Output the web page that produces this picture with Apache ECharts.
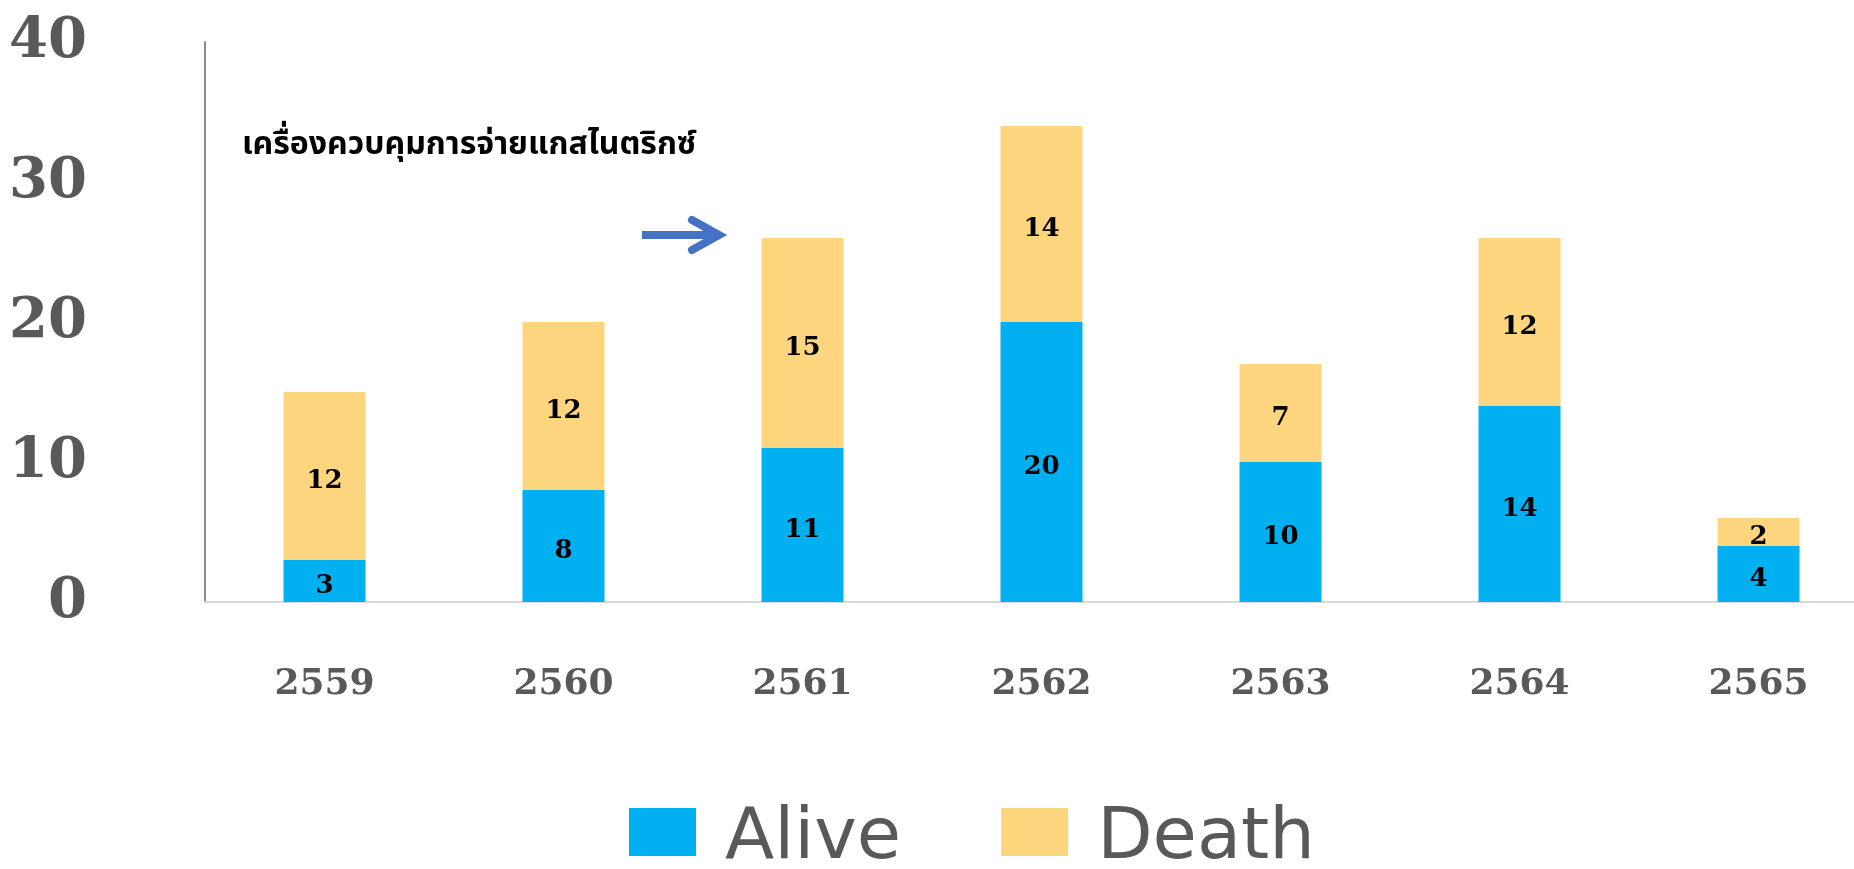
<!DOCTYPE html>
<html>
<head>
<meta charset="utf-8">
<title>Alive / Death</title>
<script src="https://cdn.jsdelivr.net/npm/echarts@6/dist/echarts.min.js"></script>
<style>
  html, body { margin: 0; padding: 0; background: #fff; }
  #main { width: 1854px; height: 869px; }
</style>
</head>
<body>
<div id="main"></div>
<script>
// ปี พ.ศ.
var years = ['2559', '2560', '2561', '2562', '2563', '2564', '2565']
var alive = [3, 8, 11, 20, 10, 14, 4]
var death = [12, 12, 15, 14, 7, 12, 2]
var yTicks = [0, 10, 20, 30, 40]
var note = 'เครื่องควบคุมการจ่ายแกสไนตริกซ์'

var labelFont = 'DejaVu Serif'
var barLabel = {
  show: true,
  position: 'inside',
  offset: [0, 5],
  color: '#000',
  fontFamily: labelFont,
  fontWeight: 'bold',
  fontSize: 26
}

var myChart = echarts.init(document.getElementById('main'))
var option = {
  backgroundColor: '#fff',
  animation: false,
  grid: {
    left: 205,
    right: -24,
    top: 42,
    bottom: 267,
    outerBoundsMode: 'none'
  },
  legend: {
    data: ['Alive', 'Death'],
    left: 629,
    top: 803,
    padding: 0,
    icon: 'rect',
    itemWidth: 67,
    itemHeight: 48,
    itemGap: 100,
    formatter: '{t|{name}}',
    textStyle: {
      padding: [0, 0, 0, 24],
      rich: {
        t: {
          fontFamily: 'DejaVu Sans',
          fontSize: 72,
          color: '#595959',
          padding: [14, 0, 0, 0]
        }
      }
    }
  },
  xAxis: {
    type: 'category',
    data: years,
    axisLine: { show: true, lineStyle: { color: '#d9d9d9', width: 2 } },
    axisTick: { show: false },
    splitLine: { show: false },
    axisLabel: {
      margin: 65,
      color: '#595959',
      fontFamily: labelFont,
      fontWeight: 'bold',
      fontSize: 36
    }
  },
  yAxis: {
    type: 'value',
    min: yTicks[0],
    max: yTicks[yTicks.length - 1],
    interval: 10,
    axisLine: { show: true, lineStyle: { color: '#8c8c8c', width: 2 } },
    axisTick: { show: false },
    splitLine: { show: false },
    axisLabel: {
      margin: 118,
      color: '#595959',
      fontFamily: labelFont,
      fontWeight: 'bold',
      fontSize: 56,
      padding: [0, 0, 6, 0]
    }
  },
  series: [
    {
      name: 'Alive',
      type: 'bar',
      stack: 'total',
      data: alive,
      barWidth: 82,
      itemStyle: { color: '#00b0f0' },
      label: barLabel
    },
    {
      name: 'Death',
      type: 'bar',
      stack: 'total',
      data: death,
      barWidth: 82,
      itemStyle: { color: '#fdd57e' },
      label: barLabel
    }
  ],
  graphic: [
    {
      type: 'text',
      left: 242,
      top: 132,
      style: {
        text: note,
        fill: '#000',
        font: 'bold 32px "Noto Sans Thai", "Noto Sans", sans-serif'
      }
    },
    {
      type: 'line',
      shape: { x1: 642, y1: 235, x2: 716, y2: 235 },
      style: { stroke: '#4472c4', lineWidth: 8 }
    },
    {
      type: 'polyline',
      shape: { points: [[692, 220], [719, 235], [692, 250]] },
      style: { stroke: '#4472c4', lineWidth: 8, lineCap: 'round', lineJoin: 'miter', fill: null }
    }
  ]
}
myChart.setOption(option)
</script>
</body>
</html>
